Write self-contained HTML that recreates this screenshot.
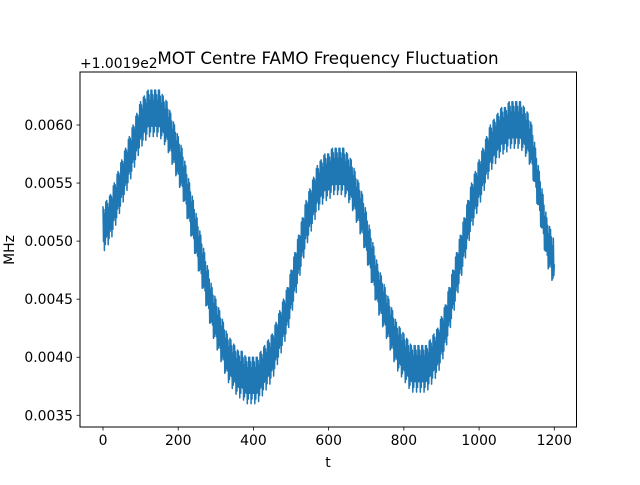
<!DOCTYPE html>
<html><head><meta charset="utf-8"><style>
body{margin:0;background:#fff;}
svg text{font-family:"DejaVu Sans","Liberation Sans",sans-serif;fill:#000;}
</style></head><body>
<svg id="chart" width="640" height="480" viewBox="0 0 640 480">
<rect width="640" height="480" fill="#fff"/>
<g id="plot"></g>
<g id="axes"></g>
</svg>
<script>
// time samples every 10 units
const tValues = [];
for (let t = 0; t <= 1200; t += 10) tValues.push(t);
// centre of frequency offset (units of 1e-4 MHz above 100.19)
const centreValues = [51,51.5,52,53,54,55,56,57,58,59,60,60.5,61,61,61,61,60.5,60,59,58,57,56,54.5,53,51.5,50,48.5,47,45.5,44,43,42,41,40,39.5,39,38.5,38.5,38,38,38,38,38.5,39,39.5,40,41,42,43,44,45.5,47,48.5,50,51.5,52.5,53.5,54.5,55,55.5,55.5,56,56,56,56,55.5,55,54,53,52,50.5,49,47.5,46,45,44,43,42,41,40.5,40,39.5,39,39,39,39,39,39.5,40,40.5,41.5,42.5,44,45.5,47,48.5,50,51.5,53,54,55,56,57,58,58.5,59,59.5,59.5,60,60,60,60,59.5,59,58,56,54,52,50,49,48];
const noiseAmp = 2.0; // half-width of noise band, same units
const yTickValues = [0.0035,0.0040,0.0045,0.0050,0.0055,0.0060];
const yTickLabels = ["0.0035","0.0040","0.0045","0.0050","0.0055","0.0060"];
const xTickValues = [0,200,400,600,800,1000,1200];
const xTickLabels = ["0","200","400","600","800","1000","1200"];

const L=80,R=576.5,T=72,B=427;
function xs(t){return 103 + t*(554.3-103)/1200;}
function ys(v){return 125 + (0.0060 - v)/0.0005*58.06;}
function ysU(u){return ys(u*1e-4);}
const NS="http://www.w3.org/2000/svg";
function mk(tag,attrs,parent){const e=document.createElementNS(NS,tag);for(const k in attrs)e.setAttribute(k,attrs[k]);parent.appendChild(e);return e;}

const plot=document.getElementById('plot');
const axes=document.getElementById('axes');
let pts=[];
for(let i=0;i<tValues.length-1;i++){
  const t0=tValues[i],t1=tValues[i+1],c0=centreValues[i],c1=centreValues[i+1];
  const sub=8;
  for(let k=0;k<sub;k++){
    const f=k/sub;
    const t=t0+(t1-t0)*f, c=c0+(c1-c0)*f;
    const s=((i*sub+k)%2===0?1:-1)*noiseAmp*(k%3===1?0.55:(k%3===2?0.8:1));
    pts.push(xs(t).toFixed(2)+','+ysU(c+s).toFixed(2));
  }
}
pts.push(xs(tValues[tValues.length-1]).toFixed(2)+','+ysU(centreValues[centreValues.length-1]).toFixed(2));
const line=mk('polyline',{points:pts.join(' '),fill:'none',stroke:'#1f77b4','stroke-width':1.5,'stroke-linejoin':'round'},plot);



const frame=mk('rect',{x:L,y:T,width:R-L,height:B-T,fill:'none',stroke:'#000','stroke-width':1},axes);



xTickValues.forEach((v,i)=>{
  const x=xs(v);
  const tk=mk('line',{x1:x,x2:x,y1:B,y2:B+3.5,stroke:'#000','stroke-width':0.8},axes);
  
  
  const tx=mk('text',{x:x,y:B+18,'text-anchor':'middle','font-size':'13.9px'},axes);
  tx.textContent=xTickLabels[i];
  
  
});
yTickValues.forEach((v,i)=>{
  const y=ys(v);
  const tk=mk('line',{x1:L-3.5,x2:L,y1:y,y2:y,stroke:'#000','stroke-width':0.8},axes);
  
  
  const tx=mk('text',{x:L-7,y:y+5,'text-anchor':'end','font-size':'13.9px'},axes);
  tx.textContent=yTickLabels[i];
  
  
});
</script>
<svg width="640" height="480" style="position:absolute;left:0;top:0">
<text x="328" y="64" text-anchor="middle" font-size="16.7px" font-family="DejaVu Sans, Liberation Sans, sans-serif">MOT Centre FAMO Frequency Fluctuation</text>
<text x="80" y="68" font-size="13.9px" font-family="DejaVu Sans, Liberation Sans, sans-serif">+1.0019e2</text>
<text x="328" y="467" text-anchor="middle" font-size="13.9px" font-family="DejaVu Sans, Liberation Sans, sans-serif">t</text>
<text x="14" y="250" text-anchor="middle" font-size="13.9px" font-family="DejaVu Sans, Liberation Sans, sans-serif" transform="rotate(-90 14 250)">MHz</text>
</svg>
</body></html>
